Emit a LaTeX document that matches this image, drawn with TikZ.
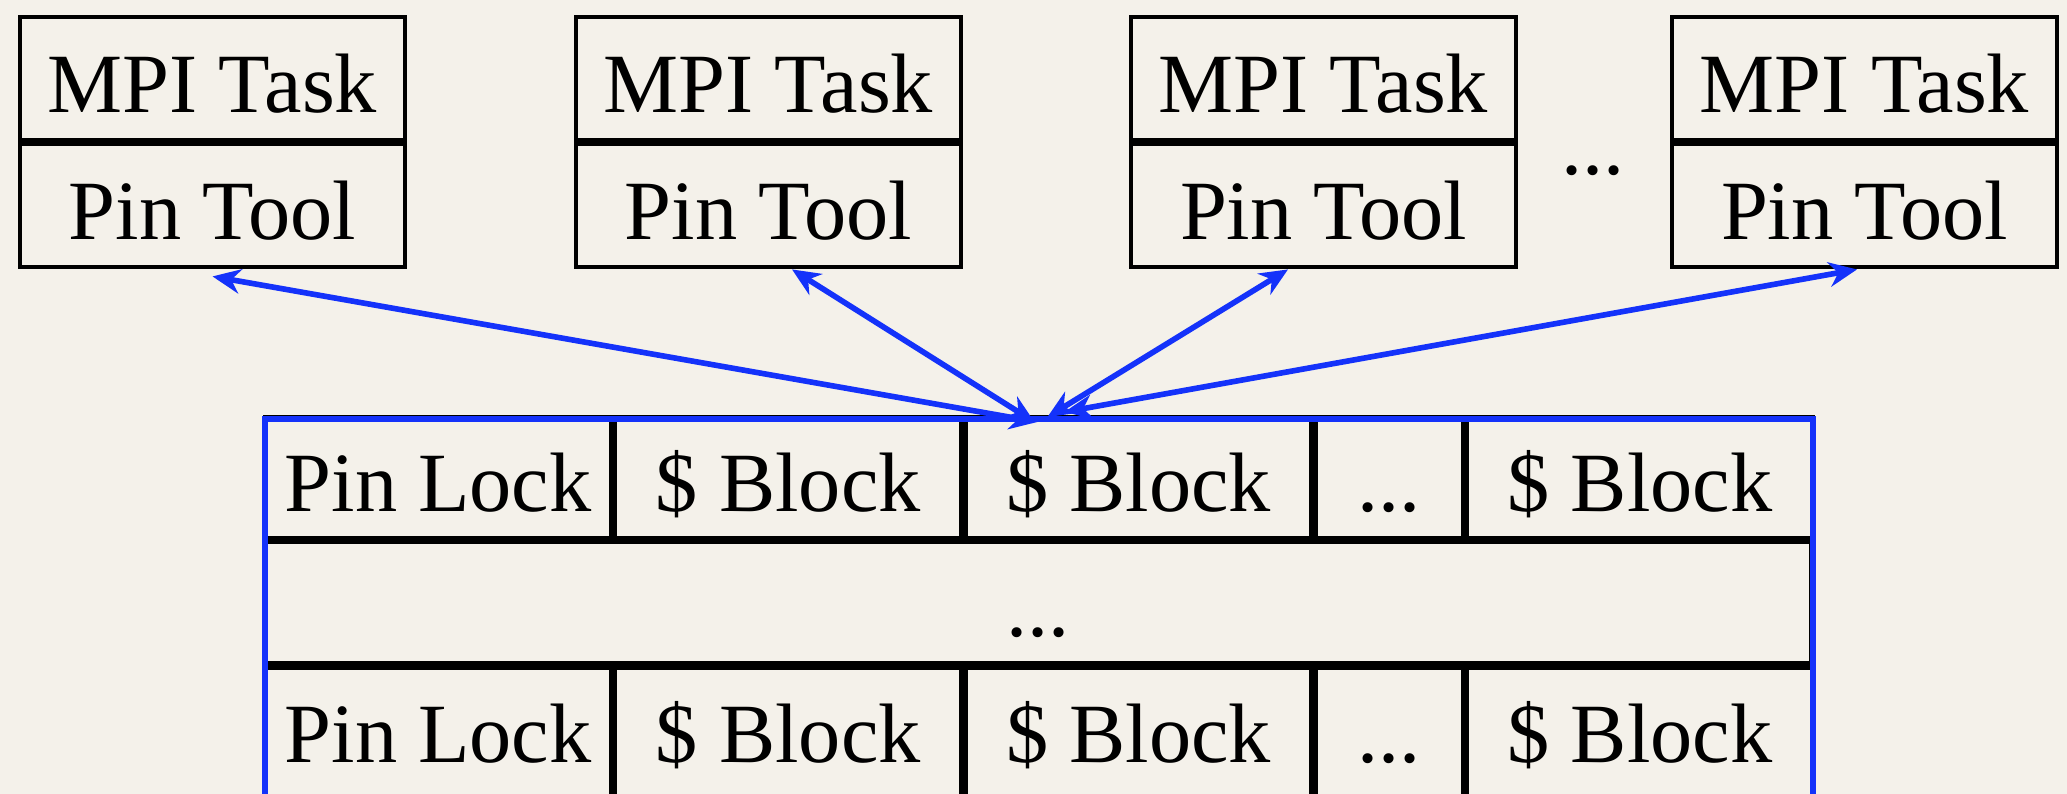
\documentclass[tikz,border=0pt]{standalone}
\usepackage{fontspec}
\setmainfont{Liberation Serif}
\usetikzlibrary{positioning,shapes,arrows.meta}
\definecolor{paper}{RGB}{244,241,234}
\definecolor{linkblue}{RGB}{20,50,250}

\begin{document}
\begin{tikzpicture}[
	node distance=0pt,
	every node/.style={font=\fontsize{24}{29}\selectfont,text height=0.81cm,text depth=0.13cm},
	box/.style={draw,line width=1.2pt,minimum width=3.85cm,minimum height=1.23cm,inner sep=0pt},
	cell/.style={draw,line width=1.2pt,minimum width=3.46cm,minimum height=1.21cm,inner sep=0pt},
	lastrow/.style={minimum height=1.5cm,text depth=0.42cm},
	link/.style={linkblue,line width=1.6pt,{Stealth[length=8pt,width=7pt]}-{Stealth[length=8pt,width=7pt]}}
	]
	\fill[paper] (0,0) rectangle (20.67,7.94);
	\useasboundingbox (0,0) rectangle (20.67,7.94);
	\node[box,anchor=north] (task1) at (2.125,7.79) {MPI Task};
	\node[box,below=of task1] (tool1) {Pin Tool};
	\node[box,anchor=north] (task2) at (7.685,7.79) {MPI Task};
	\node[box,below=of task2] (tool2) {Pin Tool};
	\node[box,anchor=north] (task3) at (13.235,7.79) {MPI Task};
	\node[box,below=of task3] (tool3) {Pin Tool};
	\node[box,anchor=north] (task4) at (18.645,7.79) {MPI Task};
	\node[box,below=of task4] (tool4) {Pin Tool};
	\node[anchor=base] (more) at (15.93,6.19) {...};
	\node[cell,anchor=north west] (lockA) at (2.63,3.79) {Pin Lock};
	\node[cell,right=of lockA] (blkA1) {\$ Block};
	\node[cell,right=of blkA1] (blkA2) {\$ Block};
	\node[cell,minimum width=1.47cm,right=of blkA2] (dotsA) {...};
	\node[cell,right=of dotsA] (blkA3) {\$ Block};
	\node[cell,minimum width=15.46cm,anchor=north west] (midrow) at (lockA.south west) {...};
	\node[cell,lastrow,anchor=north west] (lockC) at (midrow.south west) {Pin Lock};
	\node[cell,lastrow,right=of lockC] (blkC1) {\$ Block};
	\node[cell,lastrow,right=of blkC1] (blkC2) {\$ Block};
	\node[cell,lastrow,minimum width=1.47cm,right=of blkC2] (dotsC) {...};
	\node[cell,lastrow,right=of dotsC] (blkC3) {\$ Block};
	\draw[linkblue,line width=1.6pt] ([shift={(0.02,-0.04)}]lockA.north west) rectangle ([shift={(-0.02,-0.5)}]blkC3.south east);
	\coordinate (hub) at ([xshift=0.79cm,yshift=-0.02cm]blkA2.north west);
	\path[link]
	([yshift=-0.07cm]tool1.south) edge ([shift={(-0.05,-0.05)}]hub)
	([xshift=0.235cm]tool2.south) edge ([shift={(-0.08,-0.05)}]hub)
	([xshift=-0.355cm]tool3.south) edge ([shift={(0.05,0)}]hub)
	([xshift=-0.075cm]tool4.south) edge ([shift={(0.22,0.05)}]hub);
\end{tikzpicture}
\end{document}
